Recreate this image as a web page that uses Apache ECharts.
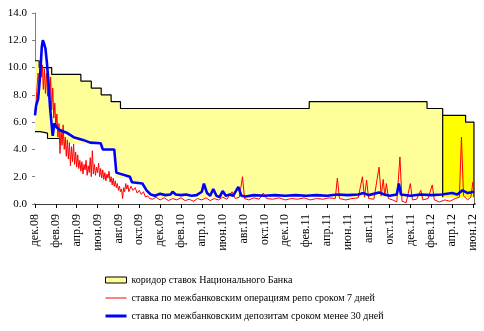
<!DOCTYPE html>
<html><head><meta charset="utf-8">
<script src="https://cdn.jsdelivr.net/npm/echarts@6/dist/echarts.min.js"></script>
<style>html,body{margin:0;padding:0;background:#fff}#c{width:484px;height:331px}</style>
</head><body><div id="c"></div>
<script>
// x = months since Dec 2008
const tickLabels = ['дек.08','фев.09','апр.09','июн.09','авг.09','окт.09','дек.09','фев.10','апр.10','июн.10','авг.10','окт.10','дек.10','фев.11','апр.11','июн.11','авг.11','окт.11','дек.11','фев.12','апр.12','июн.12'];
const seriesNames = ['коридор ставок Национального Банка','ставка по межбанковским операциям репо сроком 7 дней','ставка по межбанковским депозитам сроком менее 30 дней'];
// corridor upper bound (pale period), step changes
const corridorUpper = [[0,10.5],[0.4,10.0],[1.6,9.5],[4.4,9.0],[5.4,8.5],[6.35,8.0],[7.3,7.5],[8.2,7.0],[26.3,7.5],[37.6,7.0],[39.1,7.0],[39.1,0]];
// corridor upper bound (later period)
const corridorUpperLate = [[39.1,6.5],[41.3,6.0],[42.1,6.0],[42.1,0]];
// corridor lower bound
const corridorLower = [[0,5.3],[0.5,5.2],[1.2,4.8],[2.3,4.4],[6.5,3.9],[7.7,1.9],[9.2,1.5],[10.5,0.9],[11.2,0.5],[42.1,0.5]];
// repo 7 days
const repo7 = [[0.0,6.7],[0.1,7.4],[0.2,8.6],[0.3,9.6],[0.4,8.9],[0.5,10.1],[0.6,9.3],[0.7,10.2],[0.8,8.4],[0.9,9.9],[1.0,8.1],[1.1,9.6],[1.2,7.9],[1.3,9.5],[1.4,7.2],[1.5,9.3],[1.6,6.9],[1.7,8.5],[1.8,6.3],[1.9,7.4],[2.0,5.6],[2.1,6.6],[2.2,4.9],[2.3,5.9],[2.4,3.7],[2.5,5.5],[2.6,4.3],[2.7,5.8],[2.8,4.0],[2.9,4.9],[3.0,3.5],[3.1,4.7],[3.2,3.3],[3.3,4.5],[3.4,2.8],[3.5,4.2],[3.6,3.1],[3.7,4.4],[3.8,2.9],[3.9,3.8],[4.0,2.7],[4.1,3.6],[4.2,2.6],[4.3,3.2],[4.4,2.4],[4.5,3.1],[4.6,2.2],[4.7,2.9],[4.8,2.5],[4.9,3.2],[5.0,2.1],[5.1,2.8],[5.2,2.3],[5.3,3.4],[5.4,2.0],[5.5,3.9],[5.6,2.2],[5.7,2.9],[5.8,2.1],[5.9,2.7],[6.0,2.3],[6.1,3.0],[6.2,2.0],[6.3,2.6],[6.4,1.9],[6.5,2.5],[6.6,1.8],[6.7,2.3],[6.8,1.7],[6.9,2.2],[7.0,1.9],[7.1,2.4],[7.2,1.6],[7.3,2.0],[7.4,1.4],[7.5,1.9],[7.6,1.3],[7.7,1.7],[7.8,1.2],[7.9,1.5],[8.0,1.0],[8.1,1.3],[8.2,0.9],[8.3,1.1],[8.4,0.4],[8.5,1.2],[8.6,0.9],[8.7,1.5],[8.8,1.1],[8.9,1.4],[9.0,0.9],[9.2,1.3],[9.4,1.0],[9.6,1.2],[9.8,0.8],[10.0,1.0],[10.2,0.7],[10.4,0.9],[10.6,0.5],[10.8,0.6],[11.0,0.4],[11.3,0.35],[11.6,0.5],[12.0,0.3],[12.4,0.45],[12.8,0.25],[13.2,0.4],[13.6,0.3],[14.0,0.45],[14.4,0.25],[14.8,0.35],[15.2,0.2],[15.6,0.4],[16.0,0.3],[16.4,0.45],[16.8,0.25],[17.2,0.4],[17.6,0.3],[18.0,0.5],[18.4,0.35],[18.9,0.9],[19.2,0.4],[19.6,0.5],[19.9,2.0],[20.1,0.4],[20.5,0.3],[21.0,0.45],[21.5,0.35],[21.9,0.8],[22.2,0.4],[22.8,0.35],[23.4,0.45],[24.0,0.3],[24.6,0.4],[25.2,0.35],[25.8,0.45],[26.4,0.3],[27.0,0.4],[27.6,0.35],[28.2,0.45],[28.8,0.4],[29.0,1.9],[29.2,0.4],[29.8,0.3],[30.4,0.4],[31.0,0.45],[31.4,2.0],[31.6,0.5],[31.8,1.75],[32.0,0.4],[32.5,0.35],[33.0,2.7],[33.2,0.6],[33.4,1.8],[33.55,0.6],[33.7,1.5],[33.9,0.4],[34.3,0.3],[34.7,0.15],[35.0,3.45],[35.2,0.2],[35.6,0.1],[36.0,1.5],[36.2,0.3],[36.6,0.35],[37.0,1.0],[37.2,0.3],[37.7,0.4],[38.1,1.4],[38.3,0.3],[38.8,0.15],[39.3,0.3],[39.8,0.2],[40.3,0.4],[40.7,0.5],[40.9,4.9],[41.1,0.6],[41.5,0.3],[41.8,0.5],[42.0,1.6],[42.1,0.8]];
// interbank deposits < 30 days
const deposit30 = [[0.0,6.5],[0.1,7.2],[0.3,7.7],[0.5,9.5],[0.65,11.5],[0.75,12.0],[0.85,11.8],[1.0,11.4],[1.15,10.3],[1.3,8.8],[1.45,7.0],[1.6,6.9],[1.7,5.0],[1.85,5.9],[2.1,5.6],[2.4,5.4],[3.1,5.2],[3.7,4.9],[4.6,4.7],[5.3,4.5],[6.3,4.45],[6.5,4.0],[7.6,4.0],[7.8,2.3],[9.1,2.0],[9.3,1.6],[10.3,1.5],[10.7,1.0],[11.1,0.7],[11.5,0.6],[12.0,0.75],[12.5,0.65],[13.0,0.7],[13.2,0.9],[13.5,0.7],[14.0,0.65],[14.5,0.7],[15.0,0.6],[15.5,0.65],[16.0,0.9],[16.2,1.5],[16.5,0.8],[16.8,0.6],[17.1,1.1],[17.4,0.6],[17.7,0.5],[18.0,0.95],[18.3,0.6],[18.7,0.7],[19.0,0.6],[19.5,1.25],[19.8,0.6],[20.2,0.55],[21.0,0.65],[22.0,0.6],[23.0,0.65],[24.0,0.6],[25.0,0.65],[26.0,0.6],[27.0,0.65],[28.0,0.6],[29.0,0.7],[30.0,0.65],[31.0,0.7],[31.5,0.8],[32.0,0.65],[33.0,0.85],[33.5,0.7],[34.0,0.6],[34.7,0.7],[34.9,1.5],[35.1,0.7],[36.0,0.6],[37.0,0.7],[38.0,0.65],[39.0,0.7],[40.0,0.8],[40.5,0.7],[41.0,1.0],[41.5,0.8],[42.1,0.9]];

const FONT = 'Liberation Serif';
const tickVals = tickLabels.map((_, i) => i * 2);
const lowerVisible = corridorLower.slice(0, 3).concat([[corridorLower[3][0], corridorLower[2][1]]]);

const chart = echarts.init(document.getElementById('c'), null, {renderer: 'canvas'});
chart.setOption({
  animation: false,
  backgroundColor: '#fff',
  grid: {left: 35, right: 9, top: 13, bottom: 127, containLabel: false},
  xAxis: {
    type: 'value', min: 0, max: 42.2, interval: 2,
    axisLine: {show: true, onZero: false, lineStyle: {color: '#000', width: 1.5}},
    axisTick: {show: true, length: 4, customValues: tickVals, lineStyle: {color: '#000'}},
    splitLine: {show: false},
    axisLabel: {
      customValues: tickVals, rotate: 90, margin: 10,
      fontFamily: FONT, fontSize: 12, color: '#000',
      formatter: v => tickLabels[Math.round(v / 2)] || ''
    }
  },
  yAxis: {
    type: 'value', min: 0, max: 14, interval: 2,
    axisLine: {show: true, lineStyle: {color: '#808080', width: 1}},
    axisTick: {show: true, length: 3, lineStyle: {color: '#808080'}},
    splitLine: {show: false},
    axisLabel: {fontFamily: FONT, fontSize: 11, color: '#000', margin: 8, formatter: v => v.toFixed(1)}
  },
  legend: {
    orient: 'vertical', left: 105, top: 274, padding: 0, height: 60, itemGap: 6, itemWidth: 21, itemHeight: 6,
    textStyle: {fontFamily: FONT, fontSize: 10, color: '#000', lineHeight: 12},
    data: [
      {name: seriesNames[0], icon: 'rect', itemStyle: {color: '#FFFF99', borderColor: '#000', borderWidth: 1}},
      {name: seriesNames[1], icon: 'path://M0,0H21V1H0Z', itemStyle: {color: '#FF0000'}},
      {name: seriesNames[2], icon: 'path://M0,0H21V3H0Z', itemStyle: {color: '#0000FF'}}
    ]
  },
  series: [
    {name: seriesNames[0], type: 'line', step: 'end', data: corridorUpper, symbol: 'none', z: 1,
     lineStyle: {color: '#000', width: 1.2}, itemStyle: {color: '#FFFF99'}, areaStyle: {color: '#FFFF99', opacity: 1}},
    {name: 'late', type: 'line', step: 'end', data: corridorUpperLate, symbol: 'none', z: 1,
     lineStyle: {color: '#000', width: 1.2}, areaStyle: {color: '#FFFF00', opacity: 1}},
    {name: 'lower', type: 'line', step: 'end', data: corridorLower, symbol: 'none', z: 2,
     lineStyle: {width: 0}, areaStyle: {color: '#FFFFFF', opacity: 1}},
    {name: 'lowerLine', type: 'line', step: 'end', data: lowerVisible, symbol: 'none', z: 3,
     lineStyle: {color: '#000', width: 1.2}},
    {name: seriesNames[1], type: 'line', data: repo7, symbol: 'none', z: 4,
     lineStyle: {color: '#FF0000', width: 1}, itemStyle: {color: '#FF0000'}},
    {name: seriesNames[2], type: 'line', data: deposit30, symbol: 'none', z: 5,
     lineStyle: {color: '#0000FF', width: 2.6}, itemStyle: {color: '#0000FF'}}
  ]
});
</script></body></html>
